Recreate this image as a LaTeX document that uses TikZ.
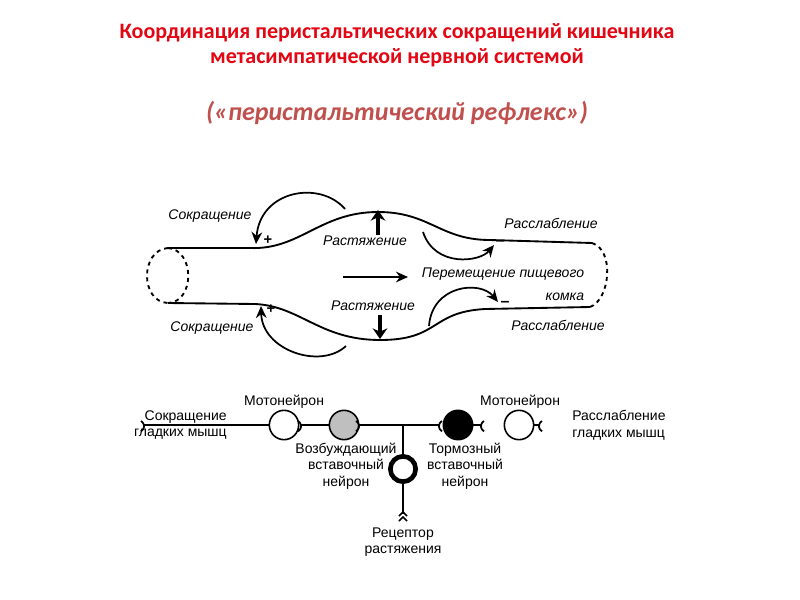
\documentclass[tikz,border=0pt]{standalone}
\usepackage{fontspec}
\setmainfont{Liberation Sans}
\newfontfamily\titlefont{Carlito}
\usetikzlibrary{arrows.meta}
\definecolor{tred}{HTML}{E30613}
\definecolor{sred}{HTML}{C0504D}
\begin{document}
\begin{tikzpicture}[x=0.75pt,y=-0.75pt,
  lbl/.style={font=\fontsize{10.5}{12}\selectfont\itshape, inner sep=0},
  nlbl/.style={font=\fontsize{10.5}{12.5}\selectfont, inner sep=0, align=center},
  wall/.style={line width=1.4pt},
  curv/.style={line width=1.3pt,-{Stealth[length=9pt,width=8pt]}},
  fat/.style={line width=3pt,-{Stealth[length=8pt,width=11pt]}},
  cell/.style={circle,draw,line width=1.2pt,minimum size=22pt,inner sep=0},
  ax/.style={line width=1.4pt},
  syn/.style={line width=1.3pt}]
\useasboundingbox (0,0) rectangle (800,600);
\node[font=\titlefont\bfseries\fontsize{16.5}{19}\selectfont,text=tred,align=center] (t) at (397,45) {Координация перистальтических сокращений кишечника\\метасимпатической нервной системой};
\node[font=\titlefont\bfseries\itshape\fontsize{19.5}{22}\selectfont,text=sred] (st) at (397,113) {(«перистальтический рефлекс»)};
% tube
\draw[wall] (168,248) -- (250,248) .. controls (300,250) and (320,212) .. (378,212) .. controls (430,212) and (440,240) .. (490,240) -- (592,243);
\draw[wall] (168,303) -- (255,304) .. controls (300,306) and (320,340) .. (380,340) .. controls (440,340) and (430,312) .. (485,309) -- (590,307);
\draw[wall,dashed] (168,248) .. controls (140,250) and (140,302) .. (168,303);
\draw[wall,dashed] (168,248) .. controls (195,250) and (195,302) .. (168,303);
\draw[wall,dashed] (592,243) .. controls (615,250) and (610,300) .. (590,307);
\coordinate (a1s) at (345,209); \coordinate (a1e) at (256,244);
\draw[curv] (a1s) .. controls (320,180) and (260,190) .. (a1e);
\coordinate (a2s) at (346,346); \coordinate (a2e) at (261,306);
\draw[curv] (a2s) .. controls (320,370) and (262,350) .. (a2e);
\coordinate (a3s) at (423,232); \coordinate (a3e) at (494,245);
\draw[curv] (a3s) .. controls (435,268) and (480,262) .. (a3e);
\coordinate (a4s) at (429,326); \coordinate (a4e) at (498,302);
\draw[curv] (a4s) .. controls (432,285) and (480,280) .. (a4e);
\coordinate (m1) at (343,277); \coordinate (m2) at (408,277);
\draw[line width=1.4pt,-{Stealth[length=9pt,width=8pt]}] (m1) -- (m2);
\coordinate (u1) at (378,235); \coordinate (u2) at (378,210);
\draw[fat] (u1) -- (u2);
\coordinate (d1) at (380,315); \coordinate (d2) at (380,339);
\draw[fat] (d1) -- (d2);
\node[lbl] (l1) at (210,216) {Сокращение};
\node[lbl] (l2) at (212,328) {Сокращение};
\node[lbl] (l3) at (365,241) {Растяжение};
\node[lbl] (l4) at (373,306) {Растяжение};
\node[lbl] (l5) at (551,223) {Расслабление};
\node[lbl] (l6) at (558,325) {Расслабление};
\node[lbl,align=right,font=\fontsize{10.5}{17}\selectfont\itshape] (l7) at (503,284) {Перемещение пищевого\\комка};
\node[font=\bfseries\fontsize{11}{12}\selectfont,inner sep=0] (p1) at (268,240) {+};
\node[font=\bfseries\fontsize{11}{12}\selectfont,inner sep=0] (p2) at (271,309) {+};
\node[font=\bfseries\fontsize{12}{12}\selectfont,inner sep=0] (n1) at (500,243) {–};
\node[font=\bfseries\fontsize{12}{12}\selectfont,inner sep=0] (n2) at (505,304) {–};
% neural circuit
\node[cell,fill=white] (mn1) at (284,425) {};
\node[cell,fill=gray!50] (ex) at (344,425) {};
\node[cell,fill=black] (inh) at (458,425) {};
\node[cell,fill=white] (mn2) at (519,425) {};
\node[cell,line width=3.5pt,minimum size=19pt] (rec) at (403,469) {};
\coordinate (s0) at (143,425);
\coordinate (s1) at (300,425);
\coordinate (s2) at (358,425);
\coordinate (j) at (403,425);
\coordinate (s3) at (440,425);
\coordinate (s4) at (482,425);
\coordinate (s5) at (540,425);
\coordinate (rb) at (403,514);
\draw[ax] (s0) -- (mn1.west);
\draw[ax] (s1) -- (ex.west);
\draw[ax] (s2) -- (j) -- (s3);
\draw[ax] (j) -- (rec.north);
\draw[ax] (inh.east) -- (s4);
\draw[ax] (mn2.east) -- (s5);
\draw[ax] (rec.south) -- (rb);
\draw[syn] ([shift={(-2,-4)}]s0) arc[start angle=60,end angle=-60,radius=4.5pt];
\draw[syn] ([shift={(-2,-4)}]s1) arc[start angle=60,end angle=-60,radius=4.5pt];
\draw[syn] ([shift={(-2,-4)}]s2) arc[start angle=60,end angle=-60,radius=4.5pt];
\draw[syn] ([shift={(2,-4)}]s3) arc[start angle=120,end angle=240,radius=4.5pt];
\draw[syn] ([shift={(2,-4)}]s4) arc[start angle=120,end angle=240,radius=4.5pt];
\draw[syn] ([shift={(2,-4)}]s5) arc[start angle=120,end angle=240,radius=4.5pt];
\draw[syn] (399,516) -- (403,512) -- (407,516);
\draw[syn] (399,521) -- (403,517) -- (407,521);
\node[nlbl] (t1) at (284,402) {Мотонейрон};
\node[nlbl] (t2) at (520,402) {Мотонейрон};
\node[nlbl,align=right,anchor=east] (t3) at (227,425) {Сокращение\\гладких мышц};
\node[nlbl,align=left,anchor=west] (t4) at (572,425) {Расслабление\\гладких мышц};
\node[nlbl] (t5) at (346,466) {Возбуждающий\\вставочный\\нейрон};
\node[nlbl] (t6) at (465,466) {Тормозный\\вставочный\\нейрон};
\node[nlbl] (t7) at (403,542) {Рецептор\\растяжения};
\end{tikzpicture}
\end{document}
